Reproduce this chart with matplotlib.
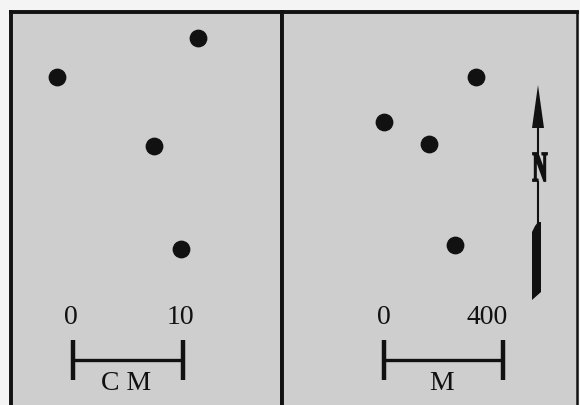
import numpy as np
import matplotlib
matplotlib.use("Agg")
import matplotlib.pyplot as plt
from matplotlib.textpath import TextPath
from matplotlib.patches import PathPatch, Polygon
from matplotlib.font_manager import FontProperties
from matplotlib.transforms import Affine2D

# map points, left panel in centimetres, right panel in metres
cm_x = [11.4, -1.5, 7.4, 9.8]
cm_y = [29.3, 25.7, 19.5, 10.1]
m_x = [310, 0, 150, 240]
m_y = [950, 800, 725, 385]

cm_scale = [0, 10]
m_scale = [0, 400]
cm_labels = ["0", "10"]
m_labels = ["0", "400"]

W, H = 580, 405
ink = "#111111"
paper = "#cecece"
serif = "Liberation Serif"

fig = plt.figure(figsize=(W / 100, H / 100), dpi=100, facecolor="#f4f4f4")


def make_panel(x0, x1, top, ox, oy, k):
    # pixel box -> axes, with data origin at pixel (ox, oy) and k units per pixel
    ax = fig.add_axes([x0 / W, 0, (x1 - x0) / W, (H - top) / H])
    ax.set_xlim((x0 - ox) * k, (x1 - ox) * k)
    ax.set_ylim((oy - H) * k, (oy - top) * k)
    ax.set_facecolor(paper)
    ax.set_xticks([])
    ax.set_yticks([])
    ax.spines["bottom"].set_visible(False)
    for s in ["left", "top", "right"]:
        ax.spines[s].set_color(ink)
        ax.spines[s].set_linewidth(2.8)
    return ax


kcm = 1 / 11.0
km = 400 / 119.0
ax1 = make_panel(10.5, 282, 11.5, 73, 360, kcm)
ax2 = make_panel(282, 576.5, 11.5, 384, 360, km)
ax2.spines["right"].set_linewidth(1.8)

ax1.plot(cm_x, cm_y, "o", ms=11.8, color=ink)
ax2.plot(m_x, m_y, "o", ms=11.8, color=ink)


def scale_bar(ax, vals, labels, unit, k, label_dx, unit_x):
    h = 20 * k
    ax.plot(vals, [0, 0], color=ink, lw=2.4, solid_capstyle="butt")
    for v in vals:
        ax.plot([v, v], [-h, h], color=ink, lw=3.2, solid_capstyle="butt")
    for v, t, dx in zip(vals, labels, label_dx):
        ax.text(v + dx * k, 42 * k, t, ha="center", va="center",
                fontsize=20, family=serif, color=ink)
    ax.text(unit_x, -24 * k, unit, ha="center", va="center",
            fontsize=20, family=serif, color=ink)


scale_bar(ax1, cm_scale, cm_labels, "C M", kcm, [-2, -3], 53 * kcm)
scale_bar(ax2, m_scale, m_labels, "M", km, [0, -16], 58 * km)

# north arrow (right panel, metres)
ax_x = (538 - 384) * km
ax2.plot([ax_x, ax_x], [(360 - 127) * km, (360 - 153) * km], color=ink, lw=1.5)
ax2.plot([ax_x, ax_x], [(360 - 182) * km, (360 - 223) * km], color=ink, lw=1.5)
head = Polygon([[ax_x, (360 - 85) * km],
                [ax_x - 6 * km, (360 - 128) * km],
                [ax_x + 6 * km, (360 - 128) * km]], closed=True, color=ink, lw=0)
ax2.add_patch(head)
tail_px = [(532, 232), (535, 226), (538, 222), (541, 222), (541, 292), (532, 300)]
tail = Polygon([[(px - 384) * km, (360 - py) * km] for px, py in tail_px],
               closed=True, color=ink, lw=0)
ax2.add_patch(tail)

tp = TextPath((0, 0), "N", size=1, prop=FontProperties(family=serif, weight="bold"))
ext = tp.get_extents()
sx = 14 * km / ext.width
sy = 28 * km / ext.height
cx, cy = (540 - 384) * km, (360 - 167) * km
tr = (Affine2D().translate(-(ext.x0 + ext.width / 2), -(ext.y0 + ext.height / 2))
      .scale(sx, sy).translate(cx, cy))
ax2.add_patch(PathPatch(tr.transform_path(tp), facecolor=ink, edgecolor=ink, lw=1.3))

fig.savefig("out.png", dpi=100, facecolor=fig.get_facecolor())
